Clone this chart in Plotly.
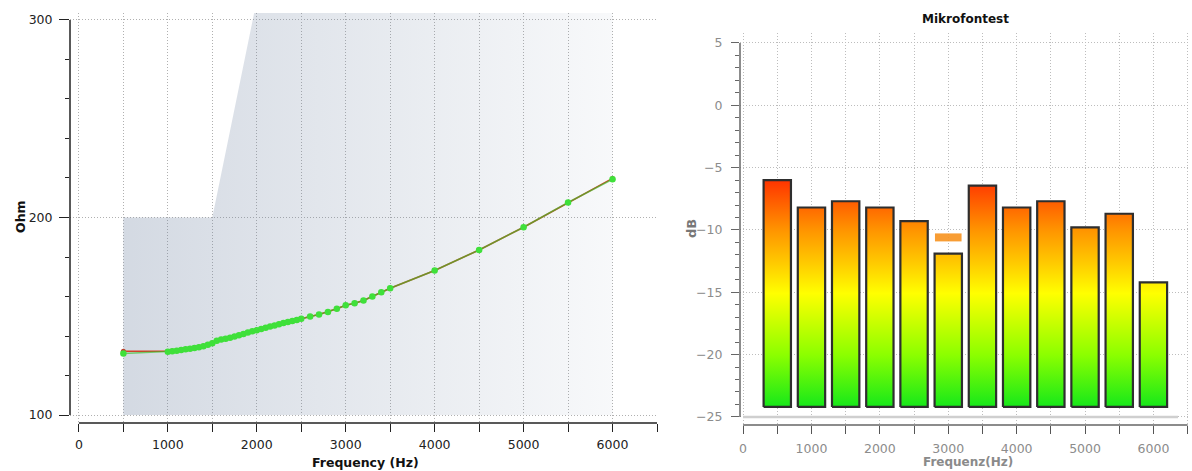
import plotly.graph_objects as go

W, H = 1192, 471

# ---------------- Left chart data (impedance) ----------------
imp_freq = [500, 1000, 1050, 1100, 1150, 1200, 1250, 1300, 1350, 1400, 1450,
            1500, 1550, 1600, 1650, 1700, 1750, 1800, 1850, 1900, 1950,
            2000, 2050, 2100, 2150, 2200, 2250, 2300, 2350, 2400, 2450,
            2500, 2600, 2700, 2800, 2900, 3000, 3100, 3200, 3300, 3400, 3500,
            4000, 4500, 5000, 5500, 6000]
imp_meas = [131.2, 132.0, 132.3, 132.6, 132.9, 133.3, 133.6, 134.0, 134.4, 134.9, 135.6,
            136.4, 137.6, 138.2, 138.7, 139.2, 139.8, 140.4, 141.1, 141.8, 142.4,
            143.0, 143.6, 144.2, 144.8, 145.4, 146.0, 146.6, 147.1, 147.6, 148.1,
            148.7, 149.9, 150.9, 152.2, 153.8, 155.6, 156.6, 158.0, 160.0, 162.2, 164.2,
            173.2, 183.6, 195.1, 207.6, 219.4]
imp_ref = [132.3, 132.2, 132.4, 132.7, 133.0, 133.3, 133.7, 134.1, 134.5, 135.0, 135.7,
           136.5, 137.6, 138.2, 138.7, 139.3, 139.8, 140.4, 141.1, 141.8, 142.4,
           143.0, 143.6, 144.2, 144.8, 145.4, 146.0, 146.6, 147.1, 147.6, 148.1,
           148.7, 149.9, 150.9, 152.2, 153.8, 155.6, 156.6, 158.0, 160.0, 162.2, 164.2,
           173.2, 183.6, 195.1, 207.6, 219.8]
mask_freq = [500, 500, 1500, 2000, 6000, 6000]
mask_ohm = [100, 200, 200, 310, 310, 100]

# ---------------- Right chart data (microphone test) ----------------
bands = [500, 1000, 1500, 2000, 2500, 3000, 3500, 4000, 4500, 5000, 5500, 6000]
levels = [-6.0, -8.2, -7.7, -8.2, -9.3, -11.9, -6.45, -8.2, -7.7, -9.8, -8.7, -14.2]
bar_base = -24.2
limit_freq = [3000]
limit_db = [-10.6]

# ---------------- layout geometry ----------------
L_XR, L_YR = [-100, 6500], [96, 303.5]
R_XR, R_YR = [-45, 6520], [-25.65, 5.8]
L_XD = [70 / W, 657 / W]
L_YD = [1 - 423 / H, 1 - 13 / H]
R_XD = [740 / W, 1189 / W]
R_YD = [1 - 425 / H, 1 - 33 / H]


def to_paper(v, rng, dom):
    return dom[0] + (v - rng[0]) / (rng[1] - rng[0]) * (dom[1] - dom[0])


fig = go.Figure()

# shaded limit area (left)
fig.add_trace(go.Scatter(
    x=mask_freq, y=mask_ohm, mode="lines", fill="toself", line=dict(width=0),
    fillgradient=dict(type="horizontal", start=500, stop=6000,
                      colorscale=[[0, "rgba(110,130,160,0.30)"], [1, "rgba(110,130,160,0.05)"]]),
    xaxis="x", yaxis="y", hoverinfo="skip", showlegend=False))

# reference (red) and measured (green) curves
fig.add_trace(go.Scatter(
    x=imp_freq, y=imp_ref, mode="lines+markers",
    line=dict(color="#d2402a", width=1.6),
    marker=dict(color="#b8402a", size=5),
    xaxis="x", yaxis="y", showlegend=False))
fig.add_trace(go.Scatter(
    x=imp_freq, y=imp_meas, mode="lines+markers",
    line=dict(color="rgba(60,190,40,0.65)", width=1.6),
    marker=dict(color="#3fe03a", size=6.5),
    xaxis="x", yaxis="y", showlegend=False))

# bars with gradient fill (right)
BAR_HALF = 200
bx, by = [], []
for f, v in zip(bands, levels):
    bx += [f - BAR_HALF, f - BAR_HALF, f + BAR_HALF, f + BAR_HALF, f - BAR_HALF, None]
    by += [bar_base, v, v, bar_base, bar_base, None]
fig.add_trace(go.Scatter(
    x=bx, y=by, mode="lines", fill="toself",
    line=dict(color="#2e2e2e", width=2.2),
    fillgradient=dict(type="vertical", start=bar_base, stop=-6.0,
                      colorscale=[[0.0, "#16e81a"], [0.23, "#8cff00"], [0.38, "#ccff00"],
                                  [0.50, "#ffff00"], [0.64, "#ffc800"], [0.78, "#ff9400"],
                                  [0.89, "#ff6400"], [1.0, "#ff3400"]]),
    xaxis="x2", yaxis="y2", hoverinfo="skip", showlegend=False))

# limit marker
fig.add_trace(go.Scatter(
    x=limit_freq, y=limit_db, mode="markers",
    marker=dict(symbol="line-ew", size=19, line=dict(color="rgba(247,146,30,0.9)", width=8)),
    xaxis="x2", yaxis="y2", showlegend=False))

grid_l = "#b0b0b0"
grid_r = "#bdbdbd"
DOT = "1px,2px"
fL = dict(family="DejaVu Sans", size=12.5, color="#222222")
fR = dict(family="DejaVu Sans", size=12.5, color="#8c8c8c")

fig.update_layout(
    width=W, height=H, autosize=False,
    margin=dict(l=0, r=0, t=0, b=0),
    paper_bgcolor="white", plot_bgcolor="white",
    xaxis=dict(domain=L_XD, range=L_XR, anchor="y", showline=False, zeroline=False,
               tick0=0, dtick=1000, ticks="outside", ticklen=8, tickwidth=1.3, tickcolor="#222",
               showgrid=True, griddash=DOT, gridcolor=grid_l, gridwidth=1,
               minor=dict(dtick=500, tick0=0, ticks="outside", ticklen=8, tickwidth=1.3,
                          tickcolor="#222", showgrid=True, griddash=DOT, gridcolor=grid_l),
               tickfont=fL, ticklabelstandoff=2),
    yaxis=dict(domain=L_YD, range=L_YR, anchor="x", showline=False, zeroline=False,
               tick0=0, dtick=100, ticks="outside", ticklen=10, tickwidth=1.3, tickcolor="#222",
               showgrid=True, griddash=DOT, gridcolor=grid_l,
               minor=dict(dtick=20, tick0=0, ticks="outside", ticklen=4, tickwidth=1.3,
                          tickcolor="#222", showgrid=False),
               tickfont=fL, ticklabelstandoff=4),
    xaxis2=dict(domain=R_XD, range=R_XR, anchor="y2", showline=False, zeroline=False,
                tick0=0, dtick=1000, ticks="outside", ticklen=8, tickwidth=1.3, tickcolor="#555",
                showgrid=True, griddash=DOT, gridcolor=grid_r,
                minor=dict(dtick=500, tick0=0, ticks="outside", ticklen=8, tickwidth=1.3,
                           tickcolor="#555", showgrid=True, griddash=DOT, gridcolor=grid_r),
                tickfont=fR, ticklabelstandoff=4),
    yaxis2=dict(domain=R_YD, range=R_YR, anchor="x2", showline=False, zeroline=False,
                tick0=0, dtick=5, ticks="outside", ticklen=8, tickwidth=1.3, tickcolor="#666",
                showgrid=True, griddash=DOT, gridcolor=grid_r,
                minor=dict(dtick=1, tick0=0, ticks="outside", ticklen=4, tickwidth=1.3,
                           tickcolor="#666", showgrid=False),
                tickfont=fR, ticklabelstandoff=6),
)

shapes = []
# left axis lines (detached style)
shapes.append(dict(type="line", xref="paper", yref="paper",
                   x0=L_XD[0], x1=L_XD[0],
                   y0=to_paper(100, L_YR, L_YD), y1=to_paper(300, L_YR, L_YD),
                   line=dict(color="#222", width=1.5)))
shapes.append(dict(type="line", xref="paper", yref="paper",
                   x0=to_paper(0, L_XR, L_XD), x1=to_paper(6500, L_XR, L_XD),
                   y0=L_YD[0], y1=L_YD[0], line=dict(color="#222", width=1.5)))
# right axis lines
shapes.append(dict(type="line", xref="paper", yref="paper",
                   x0=R_XD[0], x1=R_XD[0],
                   y0=to_paper(-25, R_YR, R_YD), y1=to_paper(5, R_YR, R_YD),
                   line=dict(color="#666", width=1.5)))
shapes.append(dict(type="line", xref="paper", yref="paper",
                   x0=to_paper(0, R_XR, R_XD), x1=to_paper(6500, R_XR, R_XD),
                   y0=R_YD[0], y1=R_YD[0], line=dict(color="#666", width=1.5)))
# light baseline at -25 dB
shapes.append(dict(type="line", xref="paper", yref="paper",
                   x0=743 / W, x1=1178 / W,
                   y0=to_paper(-25, R_YR, R_YD), y1=to_paper(-25, R_YR, R_YD),
                   line=dict(color="#cfcfcf", width=2.5)))
fig.update_layout(shapes=shapes)

ann = [
    dict(text="<b>Ohm</b>", x=20 / W, y=1 - 217 / H, textangle=-90,
         font=dict(family="DejaVu Sans", size=12.5, color="#111")),
    dict(text="<b>Frequency (Hz)</b>", x=366 / W, y=1 - 462 / H,
         font=dict(family="DejaVu Sans", size=12.5, color="#111")),
    dict(text="<b>Mikrofontest</b>", x=965 / W, y=1 - 19 / H,
         font=dict(family="DejaVu Sans", size=12, color="#111")),
    dict(text="<b>dB</b>", x=691 / W, y=1 - 229 / H, textangle=-90,
         font=dict(family="DejaVu Sans", size=13, color="#777")),
    dict(text="<b>Frequenz(Hz)</b>", x=968 / W, y=1 - 462 / H,
         font=dict(family="DejaVu Sans", size=12, color="#8a8a8a")),
]
for a in ann:
    a.update(xref="paper", yref="paper", xanchor="center", yanchor="middle", showarrow=False)
fig.update_layout(annotations=ann)

fig.write_html("out.html")
